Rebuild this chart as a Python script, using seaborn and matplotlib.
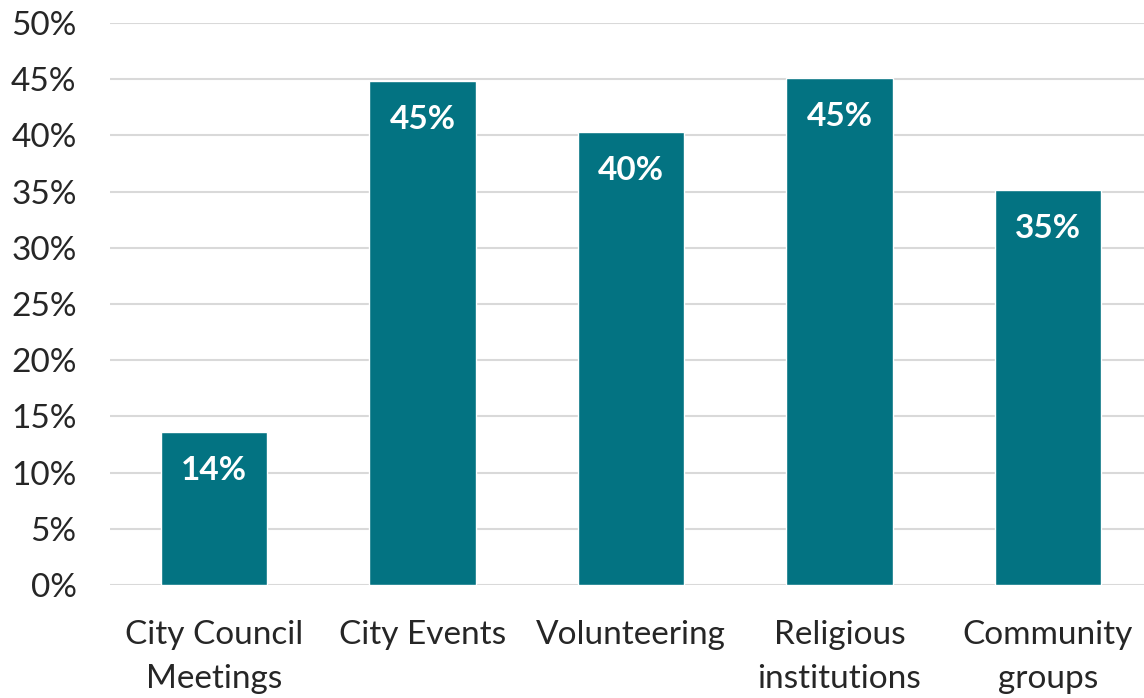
import matplotlib
matplotlib.use("Agg")
import matplotlib.pyplot as plt
import seaborn as sns
import pandas as pd
from matplotlib.ticker import FuncFormatter, MultipleLocator

categories = ["City Council\nMeetings", "City Events", "Volunteering", "Religious\ninstitutions", "Community\ngroups"]
values = [13.6, 44.8, 40.3, 45.1, 35.1]
labels = ["14%", "45%", "40%", "45%", "35%"]

sns.set_theme(style="white")
plt.rcParams['font.family'] = ['Lato', 'DejaVu Sans']

df = pd.DataFrame({"cat": categories, "val": values})

fig = plt.figure(figsize=(11.44, 6.98), dpi=100)
ax = fig.add_axes([110/1144, (698-585)/698, (1152-110)/1144, (585-23)/698])
sns.barplot(data=df, x="cat", y="val", color="#037382", width=0.51, saturation=1, ax=ax, zorder=3)

ax.set_ylim(0, 50)
ax.yaxis.set_major_locator(MultipleLocator(5))
ax.yaxis.set_major_formatter(FuncFormatter(lambda v, p: f"{int(v)}%"))
ax.grid(axis="y", color="#d9d9d9", linewidth=1.5, zorder=0)
ax.set_axisbelow(True)
for s in ax.spines.values():
    s.set_visible(False)
ax.set_xlabel("")
ax.set_ylabel("")
ax.tick_params(axis="y", labelsize=24, colors="#262626", length=0, pad=24)
ax.tick_params(axis="x", labelsize=24, colors="#262626", length=0, pad=25)
for lab in ax.get_xticklabels():
    lab.set_linespacing(1.6)

for i, (v, t) in enumerate(zip(values, labels)):
    ax.text(i, v - 3.4, t, ha="center", va="center", color="white", fontsize=24, fontweight="bold")

fig.savefig("out.png", dpi=100)
